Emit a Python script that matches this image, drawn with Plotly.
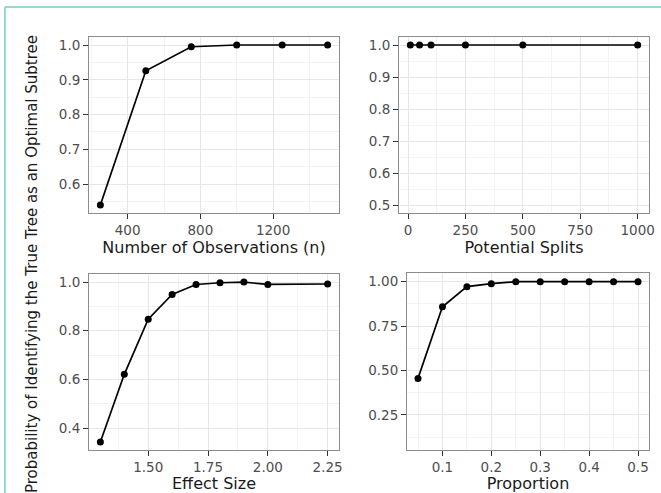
import plotly.graph_objects as go

W, H = 661, 493

# Data
obs_n = [250, 500, 750, 1000, 1250, 1500]
obs_p = [0.54, 0.926, 0.995, 1.0, 1.0, 1.0]

splits = [10, 50, 100, 250, 500, 1000]
splits_p = [1.0, 1.0, 1.0, 1.0, 1.0, 1.0]

effect = [1.3, 1.4, 1.5, 1.6, 1.7, 1.8, 1.9, 2.0, 2.25]
effect_p = [0.343, 0.621, 0.847, 0.949, 0.99, 0.997, 1.0, 0.99, 0.992]

prop = [0.05, 0.1, 0.15, 0.2, 0.25, 0.3, 0.35, 0.4, 0.45, 0.5]
prop_p = [0.456, 0.859, 0.972, 0.989, 1.0, 1.0, 1.0, 1.0, 1.0, 1.0]

y_title = "Probability of Identifying the True Tree as an Optimal Subtree"

FONT = "DejaVu Sans"

def px_x(a, b):
    return [a / W, b / W]

def px_y(top, bottom):
    return [1 - bottom / H, 1 - top / H]

fig = go.Figure()

panels = [
    dict(x=obs_n, y=obs_p, xd=px_x(89, 339), yd=px_y(37, 213),
         xr=[187.5, 1562.5], yr=[0.517, 1.023],
         xt=[400, 800, 1200], xtt=["400", "800", "1200"], xm=[200, 600, 1000, 1400],
         yt=[0.6, 0.7, 0.8, 0.9, 1.0], ytt=["0.6", "0.7", "0.8", "0.9", "1.0"],
         ym=[0.55, 0.65, 0.75, 0.85, 0.95],
         title="Number of Observations (n)"),
    dict(x=splits, y=splits_p, xd=px_x(399, 649), yd=px_y(37, 213),
         xr=[-39.5, 1049.5], yr=[0.475, 1.025],
         xt=[0, 250, 500, 750, 1000], xtt=["0", "250", "500", "750", "1000"],
         xm=[125, 375, 625, 875],
         yt=[0.5, 0.6, 0.7, 0.8, 0.9, 1.0], ytt=["0.5", "0.6", "0.7", "0.8", "0.9", "1.0"],
         ym=[0.55, 0.65, 0.75, 0.85, 0.95],
         title="Potential Splits"),
    dict(x=effect, y=effect_p, xd=px_x(89, 339), yd=px_y(274, 450),
         xr=[1.2525, 2.2975], yr=[0.31, 1.033],
         xt=[1.5, 1.75, 2.0, 2.25], xtt=["1.50", "1.75", "2.00", "2.25"],
         xm=[1.375, 1.625, 1.875, 2.125],
         yt=[0.4, 0.6, 0.8, 1.0], ytt=["0.4", "0.6", "0.8", "1.0"],
         ym=[0.5, 0.7, 0.9],
         title="Effect Size"),
    dict(x=prop, y=prop_p, xd=px_x(407, 649), yd=px_y(273, 450),
         xr=[0.0275, 0.5225], yr=[0.053, 1.049],
         xt=[0.1, 0.2, 0.3, 0.4, 0.5], xtt=["0.1", "0.2", "0.3", "0.4", "0.5"],
         xm=[0.05, 0.15, 0.25, 0.35, 0.45],
         yt=[0.25, 0.5, 0.75, 1.0], ytt=["0.25", "0.50", "0.75", "1.00"],
         ym=[0.125, 0.375, 0.625, 0.875],
         title="Proportion"),
]

layout = dict()
for i, p in enumerate(panels, start=1):
    sfx = "" if i == 1 else str(i)
    fig.add_trace(go.Scatter(
        x=p["x"], y=p["y"], mode="lines+markers",
        line=dict(color="black", width=1.7),
        marker=dict(color="black", size=7),
        xaxis="x" + sfx, yaxis="y" + sfx, showlegend=False,
        cliponaxis=False,
    ))
    common = dict(
        showline=True, mirror=True, linecolor="#8c8c8c", linewidth=1,
        ticks="outside", ticklen=5, tickwidth=1.2, tickcolor="#333333",
        showgrid=True, gridcolor="#e6e6e6", gridwidth=1,
        zeroline=False, automargin=False,
        tickfont=dict(family=FONT, size=13.5, color="#4d4d4d"),
    )
    layout["xaxis" + sfx] = dict(
        common, domain=p["xd"], range=p["xr"], anchor="y" + sfx,
        tickmode="array", tickvals=p["xt"], ticktext=p["xtt"],
        minor=dict(tickmode="array", tickvals=p["xm"], showgrid=True,
                   gridcolor="#f3f3f3", gridwidth=1, ticks=""),
        title=dict(text=p["title"], standoff=0,
                   font=dict(family=FONT, size=16, color="#1a1a1a")),
    )
    layout["yaxis" + sfx] = dict(
        common, domain=p["yd"], range=p["yr"], anchor="x" + sfx,
        tickmode="array", tickvals=p["yt"], ticktext=p["ytt"],
        minor=dict(tickmode="array", tickvals=p["ym"], showgrid=True,
                   gridcolor="#f3f3f3", gridwidth=1, ticks=""),
    )

fig.update_layout(
    width=W, height=H,
    margin=dict(l=0, r=0, t=0, b=0),
    paper_bgcolor="white", plot_bgcolor="white",
    **layout,
)

fig.add_annotation(
    text=y_title, textangle=-90, xref="paper", yref="paper",
    x=32 / W, y=1 - 33 / H, xanchor="center", yanchor="top",
    showarrow=False,
    font=dict(family=FONT, size=15, color="#1a1a1a"),
)

# teal frame lines
fig.add_shape(type="line", xref="paper", yref="paper",
              x0=5 / W, x1=5 / W, y0=0, y1=1 - 7 / H,
              line=dict(color="#72d0c0", width=1.5))
fig.add_shape(type="line", xref="paper", yref="paper",
              x0=5 / W, x1=1, y0=1 - 7 / H, y1=1 - 7 / H,
              line=dict(color="#72d0c0", width=1.5))

fig.write_html("out.html", config={"displayModeBar": False},
               post_script="document.body.style.margin='0';")
